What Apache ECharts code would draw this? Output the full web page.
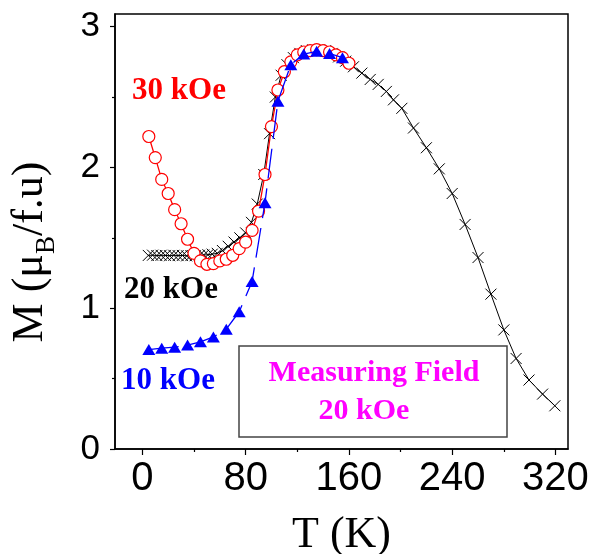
<!DOCTYPE html>
<html>
<head>
<meta charset="utf-8">
<script src="https://cdn.jsdelivr.net/npm/echarts@6/dist/echarts.min.js"></script>
<style>html,body{margin:0;padding:0;background:#fff;}#c{width:593px;height:554px;}</style>
</head>
<body>
<div id="c"></div>
<script>
// 20 kOe (black crosses)
const T20 = [4.6, 7.9, 11.2, 14.5, 17.8, 21.1, 24.4, 27.7, 31, 34.3, 37.6, 40.9, 44.2, 47.5, 50.8, 54.1,
  58, 62, 66.5, 71, 75.5, 80, 84.5, 89, 94, 98.5, 103, 107.5, 112, 117, 122, 127, 132, 137, 142, 147, 152, 157.5,
  163.5, 170, 176.5, 182.7, 189, 194.5, 201, 210, 220, 230, 240, 250, 260, 270, 280, 289.5, 299.5, 310, 319.5];
const M20 = [1.375, 1.377, 1.374, 1.376, 1.375, 1.373, 1.376, 1.374, 1.375, 1.372, 1.374, 1.373, 1.376, 1.378, 1.38, 1.384,
  1.39, 1.41, 1.44, 1.47, 1.50, 1.535, 1.61, 1.74, 1.95, 2.24, 2.50, 2.655, 2.73, 2.78, 2.81, 2.83, 2.835, 2.835, 2.83, 2.81, 2.785, 2.755,
  2.715, 2.67, 2.625, 2.59, 2.54, 2.48, 2.42, 2.28, 2.14, 1.99, 1.815, 1.595, 1.36, 1.10, 0.846, 0.643, 0.49, 0.39, 0.307];
// 30 kOe (red circles)
const T30 = [5, 10, 15, 20, 25, 30, 35, 40, 45, 50, 55, 60, 65, 70, 75, 80, 85, 90, 95, 100, 105, 110, 115, 120, 125, 130, 135, 140, 145, 150, 155, 160];
const M30 = [2.22, 2.07, 1.915, 1.815, 1.70, 1.60, 1.49, 1.39, 1.336, 1.312, 1.317, 1.336, 1.348, 1.376, 1.423, 1.47, 1.553, 1.69, 1.95, 2.29, 2.55, 2.68, 2.75, 2.80, 2.82, 2.83, 2.837, 2.83, 2.82, 2.80, 2.78, 2.74];
// 10 kOe (blue triangles)
const T10 = [5, 15, 25, 35, 45, 55, 65, 75, 85, 95, 105, 115, 125, 135, 145, 155];
const M10 = [0.706, 0.716, 0.723, 0.738, 0.761, 0.796, 0.851, 0.975, 1.19, 1.75, 2.47, 2.73, 2.805, 2.825, 2.81, 2.78];
// ticks
const xMajor = [0, 80, 160, 240, 320];
const xMinor = [40, 120, 200, 280];
const yMajor = [0, 1, 2, 3];
const yMinor = [0.5, 1.5, 2.5];

const zip = (a, b) => a.map((v, i) => [v, b[i]]);
const SERIF = '"Liberation Serif", "Times New Roman", serif';
const SANS = '"Liberation Sans", Arial, sans-serif';
const XMIN = -21.2, XMAX = 329.7, YMIN = 0, YMAX = 3.09;

const chart = echarts.init(document.getElementById('c'));
chart.setOption({
  animation: false,
  backgroundColor: '#fff',
  grid: { left: 115, right: 25, top: 14, bottom: 105, containLabel: false, outerBoundsMode: 'none',
    show: true, borderColor: '#000', borderWidth: 1.5, backgroundColor: 'transparent' },
  xAxis: [{
    type: 'value', min: XMIN, max: XMAX,
    axisLine: { show: true, onZero: false, lineStyle: { color: '#000', width: 1.5 } },
    axisTick: { show: true, length: 6, lineStyle: { color: '#000', width: 1.2 }, customValues: xMajor },
    axisLabel: { show: true, customValues: xMajor, margin: 10, fontSize: 40, fontFamily: SANS, color: '#000' },
    splitLine: { show: false },
    name: 'T (K)', nameLocation: 'middle', nameGap: 64,
    nameTextStyle: { fontSize: 44, fontFamily: SERIF, color: '#000' }
  }, {
    type: 'value', min: XMIN, max: XMAX, position: 'bottom', gridIndex: 0,
    axisLine: { show: false, onZero: false },
    axisTick: { show: true, length: 3, lineStyle: { color: '#000', width: 1.2 }, customValues: xMinor },
    axisLabel: { show: false }, splitLine: { show: false }
  }],
  yAxis: [{
    type: 'value', min: YMIN, max: YMAX,
    axisLine: { show: true, onZero: false, lineStyle: { color: '#000', width: 1.5 } },
    axisTick: { show: true, length: 5, lineStyle: { color: '#000', width: 1.2 }, customValues: yMajor },
    axisLabel: { show: true, customValues: yMajor, margin: 15, fontSize: 35, fontFamily: SANS, color: '#000' },
    splitLine: { show: false }
  }, {
    type: 'value', min: YMIN, max: YMAX, position: 'left',
    axisLine: { show: false, onZero: false },
    axisTick: { show: true, length: 3, lineStyle: { color: '#000', width: 1.2 }, customValues: yMinor },
    axisLabel: { show: false }, splitLine: { show: false }
  }],
  series: [{
    name: '20 kOe', type: 'line', data: zip(T20, M20), z: 2,
    symbol: 'path://M0,0L10,10M10,0L0,10', symbolSize: 11,
    itemStyle: { color: 'rgba(0,0,0,0)', borderColor: '#000', borderWidth: 1 },
    lineStyle: { color: '#000', width: 1 }
  }, {
    name: '30 kOe', type: 'line', data: zip(T30, M30), z: 3,
    symbol: 'circle', symbolSize: 12,
    itemStyle: { color: '#fff', borderColor: '#ff0000', borderWidth: 1.2 },
    lineStyle: { color: '#ff0000', width: 1.3 }
  }, {
    name: '10 kOe', type: 'line', data: zip(T10, M10), z: 4,
    symbol: 'triangle', symbolSize: [13, 11],
    itemStyle: { color: '#0000ff', borderWidth: 0 },
    lineStyle: { color: '#0000ff', width: 1.3, type: [30, 10] }
  }],
  graphic: [
    { type: 'text', x: 30, y: 252, rotation: Math.PI / 2,
      style: { text: '{n|M (μ}{s|B}{n|/f.u)}', textAlign: 'center', textVerticalAlign: 'middle',
        rich: {
          n: { fontSize: 44, fontFamily: SERIF, fill: '#000', lineHeight: 48 },
          s: { fontSize: 27, fontFamily: SERIF, fill: '#000', lineHeight: 48, verticalAlign: 'bottom', padding: [0, 0, -6, 0] }
        } } },
    { type: 'text', x: 179, y: 91, style: { text: '30 kOe', fill: '#ff0000', font: 'bold 31px ' + SERIF, textAlign: 'center', textVerticalAlign: 'middle' } },
    { type: 'text', x: 171, y: 290, style: { text: '20 kOe', fill: '#000', font: 'bold 31px ' + SERIF, textAlign: 'center', textVerticalAlign: 'middle' } },
    { type: 'text', x: 168, y: 381, style: { text: '10 kOe', fill: '#0000ff', font: 'bold 31px ' + SERIF, textAlign: 'center', textVerticalAlign: 'middle' } },
    { type: 'rect', shape: { x: 239, y: 346, width: 268, height: 91 }, style: { fill: 'rgba(0,0,0,0)', stroke: '#444', lineWidth: 1.5 } },
    { type: 'text', x: 374, y: 373, style: { text: 'Measuring Field', fill: '#ff00ff', font: 'bold 30px ' + SERIF, textAlign: 'center', textVerticalAlign: 'middle' } },
    { type: 'text', x: 364, y: 411, style: { text: '20 kOe', fill: '#ff00ff', font: 'bold 30px ' + SERIF, textAlign: 'center', textVerticalAlign: 'middle' } }
  ]
});
</script>
</body>
</html>
